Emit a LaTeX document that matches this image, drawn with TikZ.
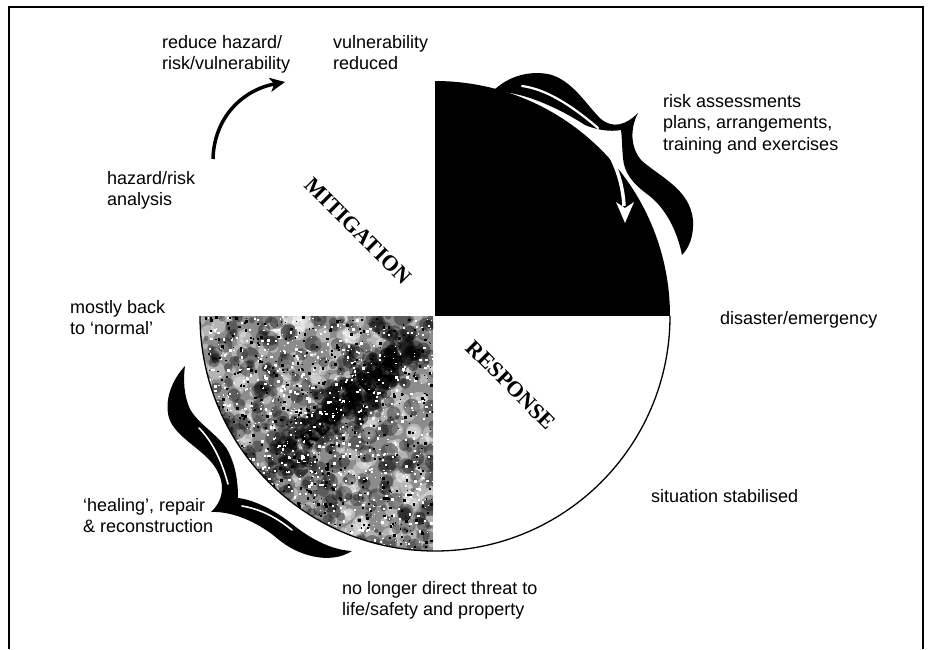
\documentclass[tikz,border=0pt]{standalone}
\usepackage{fontspec}
\setmainfont{Liberation Sans}
\newfontfamily\phasefont{Liberation Serif}
\usetikzlibrary{arrows.meta}
\newcommand{\mlines}[1]{\begin{tabular}[t]{@{}l@{}}#1\end{tabular}}
\begin{document}
\begin{tikzpicture}[x=1pt,y=-1pt,
  lbl/.style={anchor=base west, inner sep=0pt, font=\fontsize{18}{21.5}\selectfont},
  phase/.style={inner sep=0pt, font=\phasefont\bfseries\fontsize{22}{24}\selectfont},
  cyclearrow/.style={line width=3.5pt, -{Stealth[length=15pt,width=14pt,inset=4pt]}},
  swoosh/.style={fill=black},
  gapline/.style={draw=white, line cap=round},
  frameline/.style={line width=1.8pt}]
\useasboundingbox (0,0) rectangle (930,649);
\coordinate (O) at (435,316);
% frame
\draw[frameline] (9,649) -- (9,7) -- (923,7) -- (923,649);

% top-right quadrant (black)
\begin{scope}
  \clip (O) circle[radius=235pt];
  \fill[black] (435,316) rectangle (690,70);
\end{scope}

% RECOVERY quadrant (grey mottled texture)
\begin{scope}
  \clip (O) circle[radius=235pt];
  \clip (180,316) rectangle (433,560);
  \fill[black!45] (180,316) rectangle (433,560);
  \pgfmathsetseed{4321}
  \foreach \i in {1,...,420}{
    \pgfmathsetmacro\xx{195+240*rnd}
    \pgfmathsetmacro\yy{316+235*rnd}
    \pgfmathsetmacro\rr{2+7*rnd}
    \fill[white, opacity=0.35] (\xx,\yy) circle[radius=\rr pt];
  }
  \foreach \i in {1,...,420}{
    \pgfmathsetmacro\xx{195+240*rnd}
    \pgfmathsetmacro\yy{316+235*rnd}
    \pgfmathsetmacro\rr{2+7*rnd}
    \fill[black, opacity=0.35] (\xx,\yy) circle[radius=\rr pt];
  }
  \node[phase, rotate=42, text=black] (recovery) at (350,402) {RECOVERY};
  \foreach \i in {1,...,260}{
    \pgfmathsetmacro\tt{rnd}
    \pgfmathsetmacro\xx{285+130*\tt+36*(rnd-0.5)}
    \pgfmathsetmacro\yy{457-115*\tt+36*(rnd-0.5)}
    \pgfmathsetmacro\rr{2+6*rnd}
    \fill[black, opacity=0.4] (\xx,\yy) circle[radius=\rr pt];
  }
  \foreach \i in {1,...,900}{
    \pgfmathsetmacro\xx{195+240*rnd}
    \pgfmathsetmacro\yy{316+235*rnd}
    \pgfmathsetmacro\ss{0.8+2*rnd}
    \fill[white] (\xx,\yy) rectangle ++(\ss,\ss);
  }
  \foreach \i in {1,...,700}{
    \pgfmathsetmacro\xx{195+240*rnd}
    \pgfmathsetmacro\yy{316+235*rnd}
    \pgfmathsetmacro\ss{0.8+2.2*rnd}
    \fill[black] (\xx,\yy) rectangle ++(\ss,\ss);
  }
\end{scope}

% outline of the lower half of the circle
\begin{scope}
  \clip (150,316) rectangle (720,600);
  \draw[line width=1.3pt] (O) circle[radius=235pt];
\end{scope}

% top-right swoosh
\path[swoosh] (493,91) .. controls (505,79) and (525,70) .. (548,74)
  .. controls (572,79) and (587,106) .. (601,119)
  .. controls (613,129) and (626,125) .. (638,113)
  .. controls (630,128) and (630,148) .. (642,161)
  .. controls (662,178) and (690,190) .. (693,220)
  .. controls (694,236) and (689,248) .. (682,255)
  .. controls (677,230) and (665,207) .. (647,194)
  .. controls (632,183) and (624,172) .. (623,158)
  .. controls (622,148) and (622,137) .. (621,130)
  .. controls (610,132) and (597,130) .. (585,125)
  .. controls (565,112) and (535,97) .. (510,93)
  .. controls (502,92) and (497,92) .. cycle;
\draw[gapline, line width=2.2pt] (522,86) .. controls (545,89) and (570,104) .. (598,128);
% white arrow into the quadrant
\draw[white, line width=3.5pt] (600,140) .. controls (616,160) and (623,185) .. (624,206);
\fill[white] (625,223) -- (616,202) -- (625,208) -- (634,202) -- cycle;

% bottom-left swoosh
\path[swoosh] (185,366) .. controls (172,380) and (164,400) .. (169,418)
  .. controls (175,436) and (199,447) .. (212,463)
  .. controls (225,479) and (226,498) .. (211,512)
  .. controls (232,511) and (258,522) .. (278,539)
  .. controls (298,556) and (330,565) .. (352,551)
  .. controls (330,550) and (308,537) .. (292,524)
  .. controls (276,511) and (255,500) .. (238,498)
  .. controls (238,483) and (236,466) .. (228,451)
  .. controls (220,436) and (198,424) .. (190,409)
  .. controls (184,396) and (183,380) .. cycle;
\draw[gapline, line width=1.6pt] (199,428) .. controls (211,440) and (221,458) .. (228,484);
\draw[gapline, line width=1.6pt] (242,506) .. controls (260,509) and (276,517) .. (292,530);

% cycle arrow
\coordinate (arrS) at (213,159);
\coordinate (arrE) at (285,82);
\draw[cyclearrow] (arrS) .. controls (214,118) and (242,90) .. (arrE);

% phase labels
\node[phase, rotate=-45] (mitigation) at (358,231) {MITIGATION};
\node[phase, rotate=-45] (response) at (511,385) {RESPONSE};

% texts
\node[lbl] (reduce) at (162,48) {\mlines{reduce hazard/\\risk/vulnerability}};
\node[lbl] (vulred) at (333,48) {\mlines{vulnerability\\reduced}};
\node[lbl] (riskass) at (663,107) {\mlines{risk assessments\\plans, arrangements,\\training and exercises}};
\node[lbl] (hazan) at (107,184) {\mlines{hazard/risk\\analysis}};
\node[lbl] (backnormal) at (70,313) {\mlines{mostly back\\to `normal'}};
\node[lbl] (disaster) at (720,324) {disaster/emergency};
\node[lbl] (stabilised) at (651,502) {situation stabilised};
\node[lbl] (healing) at (83,511) {\mlines{`healing', repair\\\& reconstruction}};
\node[lbl] (nolonger) at (342,594) {\mlines{no longer direct threat to\\life/safety and property}};
\end{tikzpicture}
\end{document}
